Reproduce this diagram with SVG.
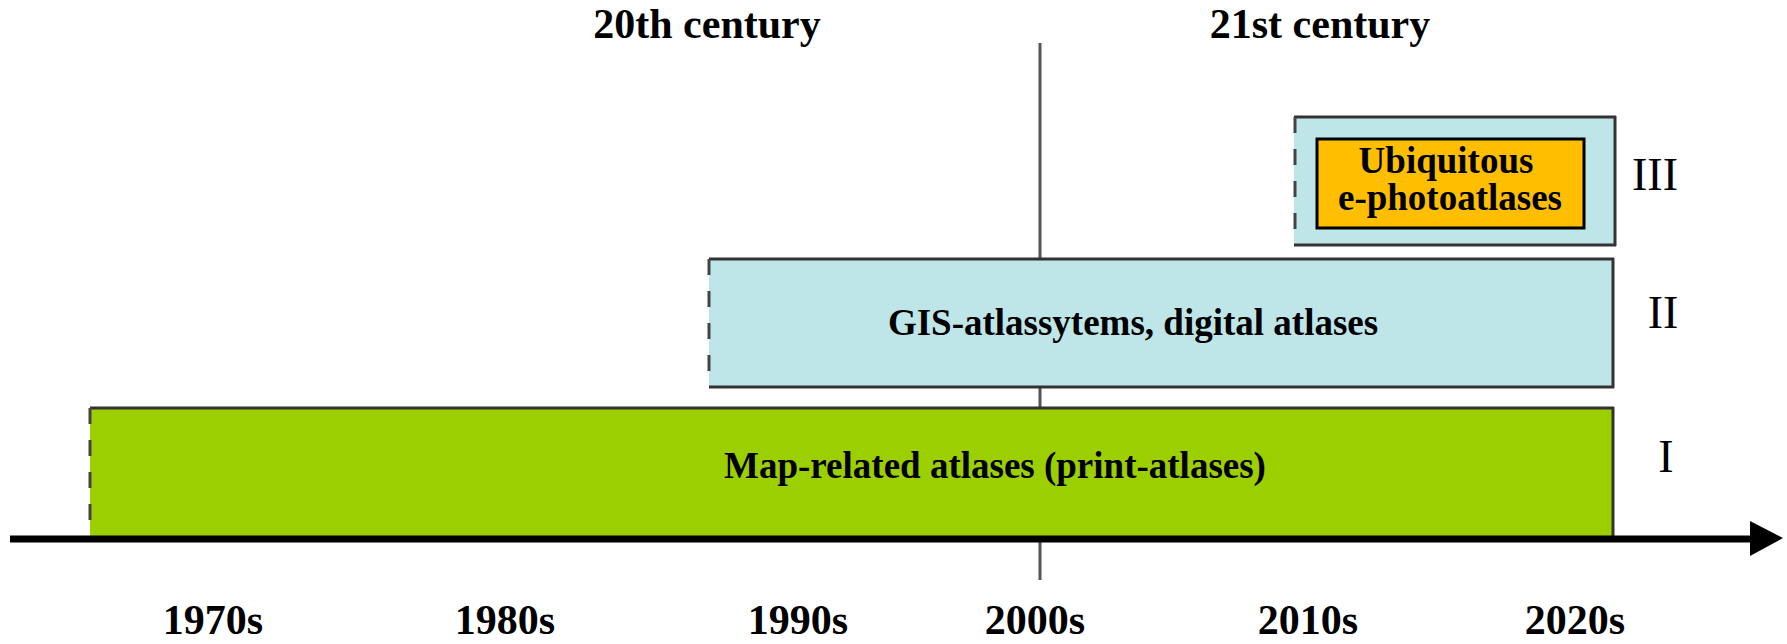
<svg xmlns="http://www.w3.org/2000/svg" width="1787" height="644" viewBox="0 0 1787 644">
<style>
.b{font-family:"Liberation Serif","Times New Roman",serif;font-weight:bold;fill:#000;text-anchor:middle}
.r{font-family:"Liberation Serif","Times New Roman",serif;fill:#000;text-anchor:middle}
.edge{stroke:#333;stroke-width:3;fill:none}
.dash{stroke:#444;stroke-width:3;fill:none;stroke-dasharray:16 16}
</style>
<rect width="1787" height="644" fill="#fff"/>
<g id="connectors">
<line x1="1040" y1="43" x2="1040" y2="580" stroke="#555" stroke-width="3"/>
</g>
<g id="era-I">
<rect x="90" y="407" width="1523" height="131" fill="#9CCF00"/>
<line class="edge" x1="90" y1="408" x2="1614" y2="408" stroke="#2a2a10"/>
<line class="edge" x1="1613" y1="407" x2="1613" y2="538"/>
<line class="dash" x1="90" y1="408" x2="90" y2="536"/>
<text class="b" x="995" y="478" font-size="37">Map-related atlases (print-atlases)</text>
<text class="r" x="1666" y="472" font-size="46">I</text>
</g>
<g id="era-II">
<rect x="709" y="258" width="904" height="129" fill="#BEE5E8"/>
<line class="edge" x1="709" y1="259" x2="1614" y2="259"/>
<line class="edge" x1="709" y1="387" x2="1614" y2="387"/>
<line class="edge" x1="1613" y1="258" x2="1613" y2="388"/>
<line class="dash" x1="709" y1="259" x2="709" y2="387" stroke-dasharray="14 24"/>
<text class="b" x="1133" y="335" font-size="37">GIS-atlassytems, digital atlases</text>
<text class="r" x="1663" y="328" font-size="46">II</text>
</g>
<g id="era-III">
<rect x="1294" y="116" width="321" height="129" fill="#BEE5E8"/>
<line class="edge" x1="1294" y1="117" x2="1616" y2="117"/>
<line class="edge" x1="1294" y1="245" x2="1616" y2="245"/>
<line class="edge" x1="1615" y1="116" x2="1615" y2="246"/>
<line class="dash" x1="1295" y1="117" x2="1295" y2="245" stroke-dasharray="14 24"/>
<rect x="1317" y="139" width="267" height="89" fill="#FFBE00" stroke="#000" stroke-width="3"/>
<text class="b" x="1446" y="173" font-size="37">Ubiquitous</text>
<text class="b" x="1450" y="210" font-size="37">e-photoatlases</text>
<text class="r" x="1655" y="190" font-size="46">III</text>
</g>
<g id="axis">
<line x1="10" y1="539" x2="1752" y2="539" stroke="#000" stroke-width="7"/>
<polygon points="1750,521 1783,538 1750,556" fill="#000"/>
</g>
<g id="centuries">
<text class="b" x="707" y="38" font-size="42">20th century</text>
<text class="b" x="1320" y="38" font-size="42">21st century</text>
</g>
<g id="decades">
<text class="b" x="213" y="634" font-size="42">1970s</text>
<text class="b" x="505" y="634" font-size="42">1980s</text>
<text class="b" x="798" y="634" font-size="42">1990s</text>
<text class="b" x="1035" y="634" font-size="42">2000s</text>
<text class="b" x="1308" y="634" font-size="42">2010s</text>
<text class="b" x="1575" y="634" font-size="42">2020s</text>
</g>
</svg>
